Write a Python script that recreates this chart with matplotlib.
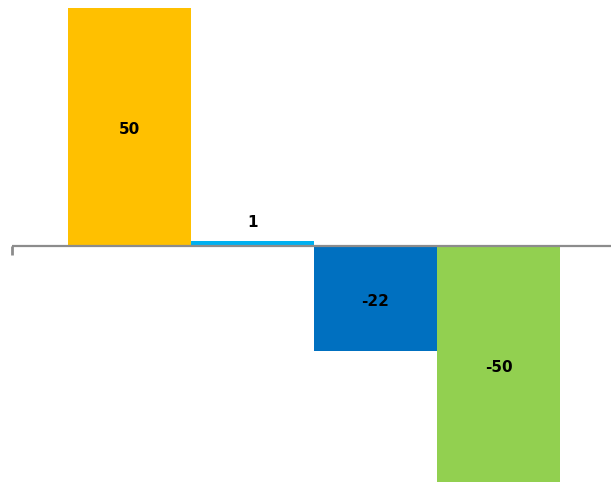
import matplotlib.pyplot as plt
import numpy as np

values = [50, 1, -22, -50]
labels = ["50", "1", "-22", "-50"]
colors = ["#FFC000", "#00B0F0", "#0070C0", "#92D050"]

fig = plt.figure(figsize=(6.11, 4.82), dpi=100)
ax = fig.add_axes([12 / 611, 0, 1 - 12 / 611, 1])

x = np.arange(len(values))
ax.bar(x, values, width=1.0, color=colors, zorder=2)

ax.set_xlim(-0.955, 3.915)
ax.set_ylim(-49.6, 51.7)

# zero line with a small tick at the left end
ax.axhline(0, color="#8c8c8c", linewidth=1.6, zorder=3)
ax.plot([-0.955, -0.955], [0, -1.9], color="#8c8c8c", linewidth=2.0,
        zorder=3, clip_on=False, solid_capstyle="butt")

for xi, v, lab in zip(x, values, labels):
    if abs(v) < 5:
        y = v + 4.0
    else:
        y = v / 2 - 0.6
    ax.text(xi, y, lab, ha="center", va="center", fontsize=11,
            fontweight="bold", color="black", family="DejaVu Sans", zorder=4)

ax.axis("off")

fig.savefig("out.png", dpi=100)
